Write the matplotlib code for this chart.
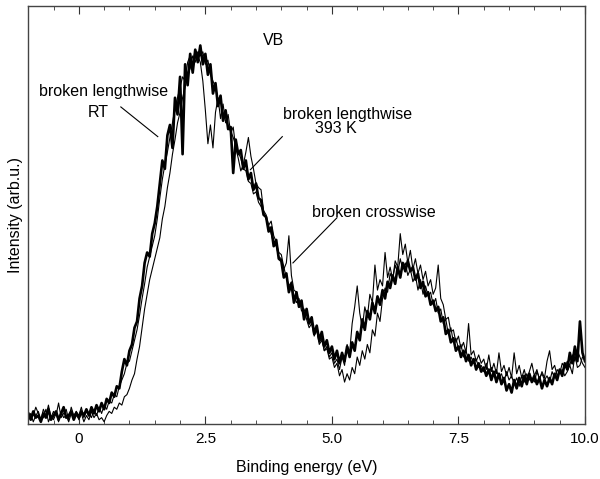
import numpy as np
import matplotlib
matplotlib.use('Agg')
import matplotlib.pyplot as plt

plt.rcParams['font.family'] = ['Liberation Sans', 'DejaVu Sans']

# binding energy grid, eV (step 0.05 from -1.0 to 10.0)
energy = np.round(np.linspace(-1.0, 10.0, 221), 2)

# thick curve: broken lengthwise, RT
lengthwise_rt = [
    2.5, 1.0, 3.0, 1.5, 2.0, 0.5, 2.5, 1.5, 3.5, 1.0, 2.0, 3.0, 1.0, 2.5, 4.0, 1.5, 2.0, 3.0, 1.0, 2.5,
    1.5, 3.0, 2.0, 3.5, 2.0, 4.0, 2.5, 4.5, 3.0, 5.0, 3.5, 6.0, 5.0, 7.5, 6.5, 9.0, 8.5, 12.5, 15.5, 14.0,
    17.5, 19.0, 23.0, 24.5, 30.0, 33.0, 38.5, 41.0, 40.0, 45.5, 48.0, 52.0, 57.5, 63.0, 61.0, 69.0, 71.5, 66.0, 78.0, 74.0,
    83.0, 64.5, 86.0, 81.0, 88.5, 84.0, 89.5, 86.5, 90.5, 86.0, 88.5, 83.5, 86.0, 79.0, 81.5, 76.0, 78.5, 72.5, 75.0, 70.5,
    71.0, 60.0, 68.0, 64.5, 65.5, 61.0, 63.0, 58.5, 60.0, 56.0, 57.5, 54.0, 53.5, 50.0, 49.5, 46.0, 47.0, 42.5, 44.0, 39.5,
    39.0, 35.0, 36.0, 31.5, 33.5, 29.0, 31.5, 28.0, 29.5, 25.0, 27.5, 24.0, 25.5, 21.5, 23.5, 20.0, 22.0, 18.5, 20.0, 17.0,
    18.5, 15.5, 17.5, 14.5, 17.0, 15.0, 18.5, 16.0, 19.5, 17.5, 22.0, 20.0, 25.0, 22.5, 27.0, 25.0, 29.0, 26.5, 30.5, 28.5,
    32.0, 30.0, 34.0, 32.5, 35.5, 33.5, 37.5, 35.0, 38.5, 36.5, 39.0, 36.5, 37.5, 34.5, 36.0, 32.5, 34.0, 30.5, 31.5, 28.5,
    29.5, 27.0, 28.0, 24.5, 25.5, 21.5, 22.5, 19.5, 20.5, 17.5, 18.5, 16.0, 17.5, 15.0, 16.5, 14.0, 15.5, 13.0, 14.5, 12.5,
    13.5, 11.5, 13.0, 10.5, 12.5, 10.0, 12.0, 9.5, 11.0, 8.0, 9.5, 7.5, 10.5, 8.5, 11.0, 9.0, 11.5, 9.5, 12.0, 10.0,
    11.5, 9.5, 11.0, 8.5, 10.5, 9.0, 11.0, 9.5, 12.0, 10.5, 13.0, 11.5, 14.5, 13.0, 17.0, 14.5, 18.5, 15.0, 24.5, 17.0,
    15.0,
]

# thin curve: broken crosswise
crosswise = [
    1.0, 2.5, 0.5, 2.0, 3.0, 1.0, 1.5, 3.5, 0.5, 2.0, 1.0, 2.5, 0.5, 3.0, 1.5, 2.0, 0.5, 2.5, 1.5, 3.0,
    1.0, 2.5, 0.5, 2.0, 1.0, 3.0, 1.5, 2.5, 1.0, 1.5, 0.5, 2.0, 3.0, 2.5, 4.0, 3.5, 5.0, 4.5, 6.5, 7.0,
    8.5, 10.5, 12.0, 15.5, 18.5, 23.0, 27.5, 31.0, 34.5, 37.0, 39.5, 42.0, 44.5, 49.0, 52.0, 56.5, 60.0, 64.5, 68.0, 72.0,
    74.5, 78.0, 80.5, 83.5, 85.0, 88.0, 86.5, 89.0, 88.0, 89.0, 86.0, 87.0, 83.5, 82.0, 80.5, 77.5, 78.0, 74.0, 73.5, 71.0,
    70.0, 68.5, 66.5, 65.0, 63.5, 61.0, 60.5, 58.0, 57.5, 55.0, 55.5, 53.0, 52.0, 50.5, 49.0, 47.5, 45.5, 43.0, 42.5, 40.0,
    39.5, 37.0, 38.5, 45.0, 35.5, 32.0, 31.5, 29.0, 29.5, 26.0, 26.5, 24.0, 24.5, 22.0, 22.5, 19.5, 20.5, 17.5, 18.0, 15.5,
    16.0, 13.5, 14.5, 11.5, 13.0, 10.0, 12.0, 10.5, 13.5, 12.0, 16.0, 14.0, 17.5, 15.5, 19.0, 17.0, 22.5, 21.0, 26.5, 24.5,
    30.0, 32.5, 31.5, 36.0, 34.5, 39.0, 37.5, 45.5, 40.5, 43.0, 38.5, 41.5, 37.0, 39.5, 36.0, 38.0, 34.5, 36.5, 33.0, 34.5,
    31.0, 32.5, 38.0, 30.0, 28.5, 25.0, 25.5, 22.0, 22.5, 19.5, 21.0, 18.0, 19.5, 17.0, 24.0, 16.5, 17.5, 15.0, 16.5, 14.5,
    15.5, 13.0, 16.5, 12.5, 14.5, 12.0, 17.0, 12.5, 14.0, 11.5, 13.5, 11.0, 17.0, 12.0, 14.0, 11.0, 13.0, 10.5, 12.5, 14.5,
    11.5, 13.0, 10.5, 12.5, 11.0, 15.0, 17.5, 13.0, 14.0, 11.5, 12.5, 13.0, 11.5, 12.5, 14.0, 12.0, 16.5, 13.5, 14.0, 16.0,
    15.5,
]

# thin curve: broken lengthwise, 393 K
lengthwise_393 = [
    3.0, 1.5, 2.0, 4.0, 2.5, 1.0, 3.5, 2.0, 4.5, 1.5, 3.0, 2.0, 5.0, 1.5, 2.5, 3.5, 1.0, 4.0, 2.0, 3.0,
    2.0, 4.0, 1.5, 3.0, 2.5, 1.5, 3.5, 2.0, 4.0, 2.5, 4.5, 3.5, 5.5, 5.0, 7.0, 6.5, 9.0, 10.5, 12.0, 14.5,
    15.0, 17.5, 20.0, 22.5, 26.0, 30.0, 33.5, 37.5, 40.0, 42.5, 45.0, 49.0, 54.0, 58.5, 62.0, 65.0, 68.5, 72.0, 75.5, 78.0,
    80.5, 83.0, 82.0, 86.5, 88.0, 86.0, 89.5, 88.0, 86.5, 82.0, 75.0, 67.0, 71.5, 66.0, 74.5, 78.0, 73.0, 76.5, 72.0, 74.0,
    69.5, 71.0, 66.0, 63.5, 60.5, 62.0, 65.0, 68.5, 64.0, 61.0, 57.5, 56.5, 56.0, 51.0, 50.0, 47.5, 48.5, 45.0, 43.5, 41.0,
    40.5, 37.5, 35.0, 33.0, 34.0, 30.5, 29.0, 30.0, 27.0, 27.5, 25.0, 23.0, 24.0, 21.0, 22.5, 19.0, 20.0, 17.5, 18.5, 16.0,
    17.0, 14.5, 15.5, 13.0, 16.0, 14.0, 19.0, 17.0, 24.0, 28.0, 33.0, 26.5, 23.0, 28.0, 25.5, 31.0, 29.0, 38.0, 32.0, 34.5,
    33.0, 41.0, 35.0, 37.5, 34.5, 38.0, 36.0, 39.5, 37.0, 38.5, 35.5, 37.0, 34.0, 35.5, 32.0, 34.5, 31.0, 33.0, 30.5, 31.5,
    28.5, 30.0, 26.5, 27.5, 24.0, 25.0, 21.5, 23.0, 19.5, 20.5, 18.0, 19.0, 16.0, 17.5, 15.0, 16.0, 14.5, 15.5, 13.5, 14.0,
    12.5, 14.5, 12.0, 13.5, 11.5, 13.0, 11.0, 12.0, 10.0, 12.5, 10.5, 11.5, 9.5, 11.0, 9.0, 11.5, 10.0, 12.0, 10.5, 11.0,
    10.0, 12.5, 11.0, 12.0, 10.5, 11.5, 10.0, 12.5, 11.0, 13.0, 12.0, 14.5, 13.5, 15.0, 14.0, 16.5, 15.0, 17.5, 16.0, 14.5,
    13.5,
]

x_ticks = [0, 2.5, 5.0, 7.5, 10.0]
x_tick_labels = ['0', '2.5', '5.0', '7.5', '10.0']

fig = plt.figure(figsize=(6.0, 4.79), dpi=100)
ax = fig.add_axes([0.047, 0.115, 0.928, 0.873])

ax.plot(energy, crosswise, color='black', lw=0.8)
ax.plot(energy, lengthwise_393, color='black', lw=0.8)
ax.plot(energy, lengthwise_rt, color='black', lw=1.9)

ax.set_xlim(-1.0, 10.0)
ax.set_ylim(0, 100)
ax.set_xticks(x_ticks)
ax.set_xticklabels(x_tick_labels)
ax.set_xticks(np.arange(-1.0, 10.01, 0.5), minor=True)
ax.set_yticks([])
ax.tick_params(axis='x', which='both', direction='in', top=True, labelsize=11, pad=6, color='#333333')
ax.tick_params(axis='x', which='major', length=6)
ax.tick_params(axis='x', which='minor', length=3)
for sp in ax.spines.values():
    sp.set_color('#444444')
    sp.set_linewidth(1.0)

ax.set_xlabel('Binding energy (eV)', fontsize=11.5, labelpad=10)
ax.set_ylabel('Intensity (arb.u.)', fontsize=11.5, labelpad=4)

fs = 11.5
ax.text(3.64, 90.7, 'VB', fontsize=fs, ha='left', va='baseline')

ax.text(-0.79, 78.5, 'broken lengthwise', fontsize=fs, ha='left', va='baseline')
ax.text(0.18, 73.4, 'RT', fontsize=fs, ha='left', va='baseline')
ax.plot([0.83, 1.56], [75.8, 68.7], color='black', lw=0.8)

ax.text(4.03, 73.0, 'broken lengthwise', fontsize=fs, ha='left', va='baseline')
ax.text(4.66, 69.6, '393 K', fontsize=fs, ha='left', va='baseline')
ax.plot([4.02, 3.39], [68.7, 60.8], color='black', lw=0.8)

ax.text(4.61, 49.5, 'broken crosswise', fontsize=fs, ha='left', va='baseline')
ax.plot([5.10, 4.23], [49.3, 38.5], color='black', lw=0.8)

fig.savefig('out.png', dpi=100)
